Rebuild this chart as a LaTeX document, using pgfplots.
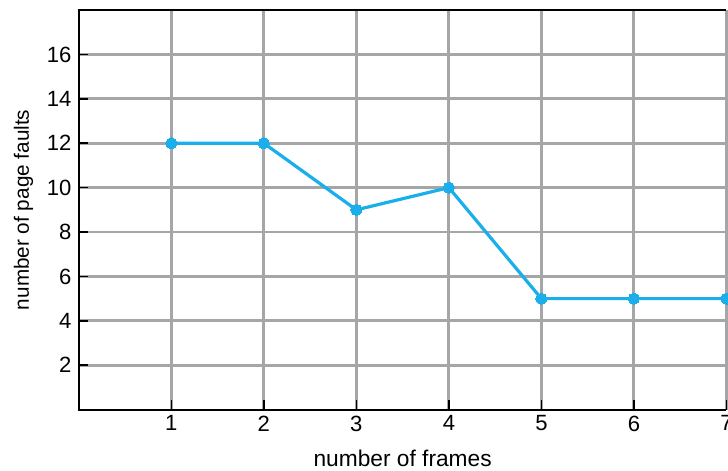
\documentclass[border=0pt]{standalone}
\usepackage{pgfplots}
\pgfplotsset{compat=1.18}
\usepackage{fontspec}
\setmainfont{Liberation Sans}
\definecolor{lineblue}{HTML}{1AAFEA}
\definecolor{gridgray}{HTML}{A4A6A8}
\begin{document}
\begin{tikzpicture}
\begin{axis}[
  scale only axis,
  width=484.5pt, height=299pt,
  xmin=0, xmax=7, ymin=0, ymax=18,
  axis line style={draw=none},
  xtick={1,2,3,4,5,6,7},
  ytick={2,4,6,8,10,12,14,16},
  grid=major,
  major grid style={gridgray, line width=2.2pt},
  tick style={black, line width=1.2pt},
  major tick length=7pt,
  tick align=inside,
  xtick pos=bottom, ytick pos=left,
  tick label style={font=\fontsize{16.5}{19}\selectfont},
  /pgf/number format/assume math mode=true,
  xticklabel style={yshift=-1pt},
  yticklabel style={xshift=-2pt},
  xlabel={number of frames},
  ylabel={number of page faults},
  xlabel style={font=\fontsize{17}{20}\selectfont, yshift=-7pt},
  ylabel style={font=\fontsize{15.5}{18}\selectfont, yshift=3.5pt},
  clip=false,
]
\addplot[lineblue, line width=2.4pt, mark=*, mark size=4.2pt, mark options={fill=lineblue, draw=lineblue, line width=0pt}]
  coordinates {(1,12) (2,12) (3,9) (4,10) (5,5) (6,5) (7,5)};
\draw[black, line width=1.6pt] (axis cs:7,18) -- (axis cs:0,18) -- (axis cs:0,0) -- (axis cs:7,0);
\coordinate (bl) at (axis cs:0,0);
\coordinate (tr) at (axis cs:7,18);
\end{axis}
\pgfresetboundingbox
\path[use as bounding box] ([shift={(-59pt,-45.75pt)}]bl) rectangle ([shift={(1.2pt,7.5pt)}]tr);
\end{tikzpicture}
\end{document}
